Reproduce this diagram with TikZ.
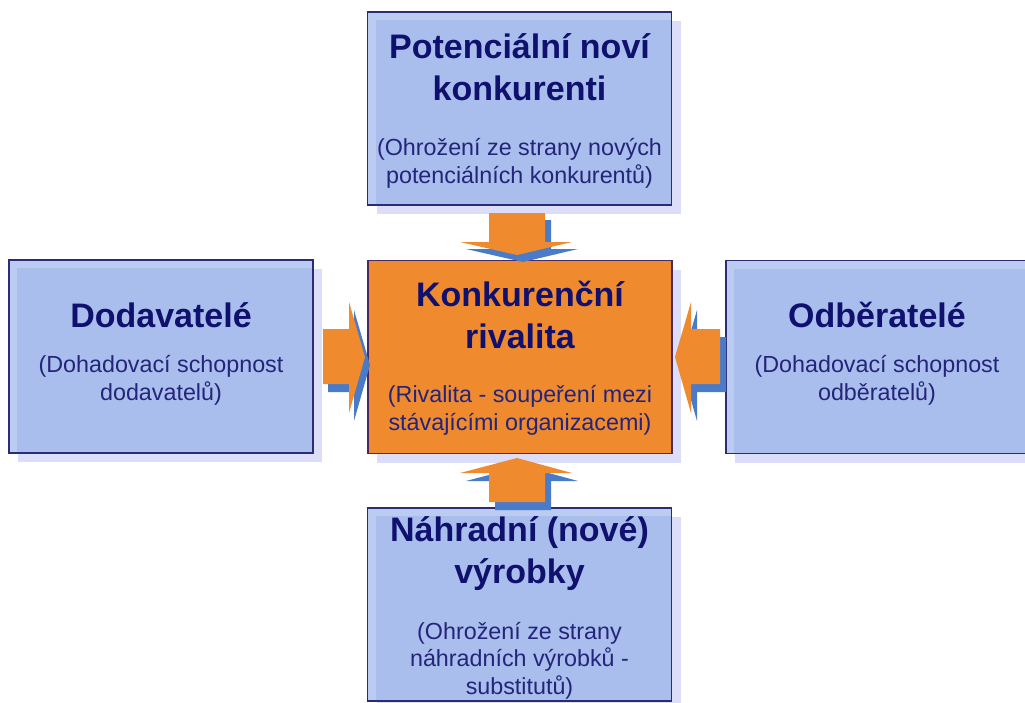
\documentclass[tikz,border=0pt]{standalone}
\usepackage{fontspec}
\setmainfont{Liberation Sans}
\usetikzlibrary{backgrounds}
\definecolor{bandc}{HTML}{BCCBF1}
\definecolor{mainc}{HTML}{A9BEEC}
\definecolor{shadc}{HTML}{DCDDF8}
\definecolor{navyb}{HTML}{2C2C74}
\definecolor{titc}{HTML}{10106E}
\definecolor{subc}{HTML}{24247A}
\definecolor{orng}{HTML}{F08A2E}
\definecolor{ablue}{HTML}{4A7BC9}
\definecolor{cbord}{HTML}{4A2A5E}
\tikzset{
  boxbase/.style={rectangle, minimum width=304pt, minimum height=193pt, line width=1.4pt, inner sep=0pt, outer sep=0pt},
  bluebox/.style={boxbase, draw=navyb, fill=bandc,
    path picture={\fill[mainc] ([xshift=8pt,yshift=-8pt]path picture bounding box.north west) rectangle (path picture bounding box.south east);}},
  orangebox/.style={boxbase, draw=cbord, fill=orng},
  ttl/.style={anchor=base, align=center, text=titc, font=\bfseries\fontsize{34}{42}\selectfont, inner sep=0pt},
  sbt/.style={anchor=base, align=center, text=subc, font=\fontsize{23.3}{27.5}\selectfont, inner sep=0pt},
  arrowfill/.style={fill=orng},
  arrowshad/.style={fill=ablue}
}
\begin{document}
\begin{tikzpicture}[x=1pt,y=-1pt]
\useasboundingbox (0,0) rectangle (1025,702);
\clip (0,0) rectangle (1025,702);
% boxes
\node[bluebox] (top) at (519.5,108.5) {};
\node[orangebox] (ctr) at (520,357) {};
\node[bluebox] (lft) at (161,356.5) {};
\node[bluebox] (rgt) at (878,357) {};
\node[bluebox] (bot) at (519.5,604.5) {};
\begin{scope}[on background layer]
  \foreach \n in {top,ctr,lft,rgt,bot}
    \fill[shadc] ([shift={(9pt,-9pt)}]\n.north west) rectangle ([shift={(9pt,-9pt)}]\n.south east);
\end{scope}
% texts (anchor base = baseline of last line)
\node[ttl] (topt) at (519.5,100) {Potenciální noví\\konkurenti};
\node[sbt] (tops) at (519.5,183) {(Ohrožení ze strany nových\\potenciálních konkurentů)};
\node[ttl] (ctrt) at (520,348) {Konkurenční\\rivalita};
\node[sbt] (ctrs) at (520,430) {(Rivalita - soupeření mezi\\stávajícími organizacemi)};
\node[ttl] (lftt) at (161,327) {Dodavatelé};
\node[sbt] (lfts) at (161,400) {(Dohadovací schopnost\\dodavatelů)};
\node[ttl] (rgtt) at (877,327) {Odběratelé};
\node[sbt] (rgts) at (877,400) {(Dohadovací schopnost\\odběratelů)};
\node[ttl] (bott) at (519.5,583) {Náhradní (nové)\\výrobky};
\node[sbt] (bots) at (519.5,694) {(Ohrožení ze strany\\náhradních výrobků -\\substitutů)};
% arrows: top (down)
\fill[arrowshad, shift={(6,7)}] (489,213) -- (545,213) -- (545,242) -- (572,242) -- (517,255) -- (460,242) -- (489,242) -- cycle;
\fill[arrowfill] (489,213) -- (545,213) -- (545,242) -- (572,242) -- (517,255) -- (460,242) -- (489,242) -- cycle;
% bottom (up)
\fill[arrowshad, shift={(6,8)}] (489,502) -- (545,502) -- (545,473) -- (572,473) -- (517,458) -- (460,473) -- (489,473) -- cycle;
\fill[arrowfill] (489,502) -- (545,502) -- (545,473) -- (572,473) -- (517,458) -- (460,473) -- (489,473) -- cycle;
% left (right-pointing)
\fill[arrowshad, shift={(5,8)}] (323,329) -- (349,329) -- (349,302) -- (365,357) -- (349,413) -- (349,384) -- (323,384) -- cycle;
\fill[arrowfill] (323,329) -- (349,329) -- (349,302) -- (365,357) -- (349,413) -- (349,384) -- (323,384) -- cycle;
% right (left-pointing)
\fill[arrowshad, shift={(6,8)}] (720,329) -- (691,329) -- (691,302) -- (675,357) -- (691,413) -- (691,384) -- (720,384) -- cycle;
\fill[arrowfill] (720,329) -- (691,329) -- (691,302) -- (675,357) -- (691,413) -- (691,384) -- (720,384) -- cycle;
\end{tikzpicture}
\end{document}
